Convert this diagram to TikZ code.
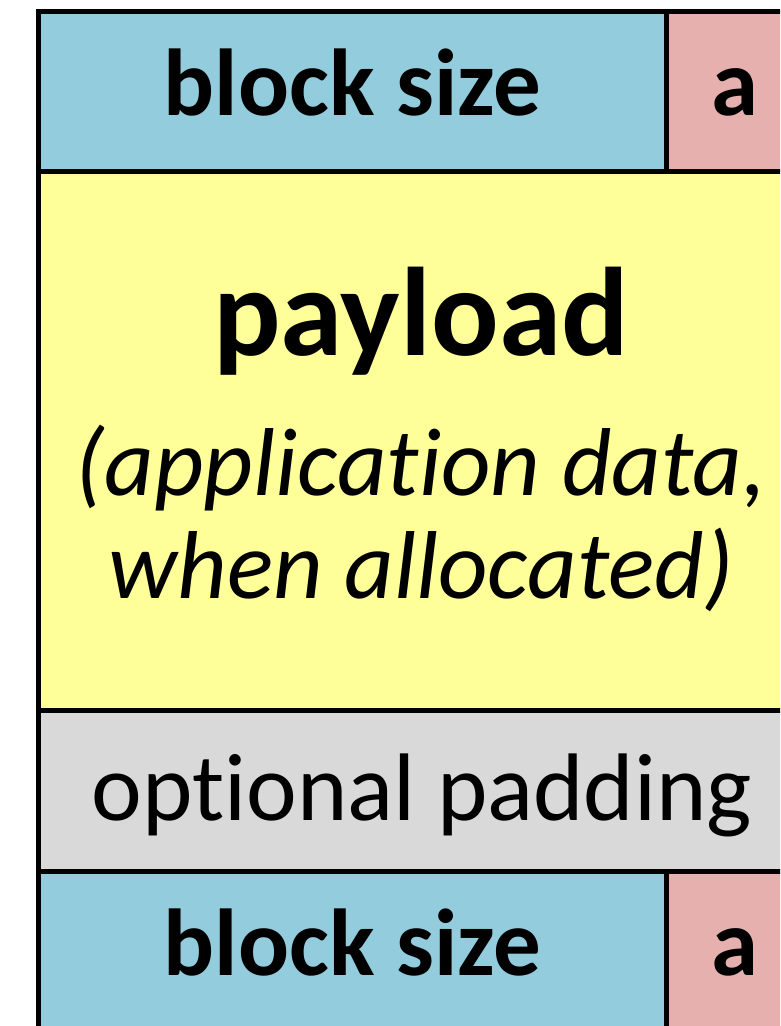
\documentclass[tikz,border=0pt]{standalone}
\usepackage{fontspec}
\setmainfont[Ligatures=NoCommon]{Carlito}
\definecolor{hdrblue}{HTML}{93CDDD}
\definecolor{hdrpink}{HTML}{E6B0AF}
\definecolor{payyellow}{HTML}{FFFF99}
\definecolor{padgray}{HTML}{D9D9D9}
\tikzset{
  cellline/.style={line width=5pt, draw=black},
  bigbold/.style={font=\fontsize{95}{100}\selectfont\bfseries, anchor=base, inner sep=0pt},
  paybold/.style={font=\fontsize{126}{130}\selectfont\bfseries, anchor=base, inner sep=0pt},
  italtext/.style={font=\fontsize{96.5}{100}\selectfont\itshape, anchor=base, inner sep=0pt},
  regtext/.style={font=\fontsize{96}{100}\selectfont, anchor=base, inner sep=0pt},
}
\begin{document}
\begin{tikzpicture}[x=1pt,y=-1pt]
\useasboundingbox (0,0) rectangle (780,1026);
\clip (0,0) rectangle (780,1026);
\fill[white] (0,0) rectangle (780,1026);
% fills
\fill[hdrblue] (38.5,11.5) rectangle (666.5,171.5);
\fill[hdrpink] (666.5,11.5) rectangle (804,171.5);
\fill[payyellow] (38.5,171.5) rectangle (804,710.5);
\fill[padgray] (38.5,710.5) rectangle (804,871.5);
\fill[hdrblue] (38.5,871.5) rectangle (666.5,1032);
\fill[hdrpink] (666.5,871.5) rectangle (804,1032);
% lines
\draw[cellline] (38.5,1040) -- (38.5,11.5) -- (804,11.5) -- (804,1040);
\draw[cellline] (38.5,171.5) -- (804,171.5);
\draw[cellline] (38.5,710.5) -- (804,710.5);
\draw[cellline] (38.5,871.5) -- (804,871.5);
\draw[cellline] (38.5,1031.5) -- (804,1031.5);
\draw[cellline] (666.5,11.5) -- (666.5,171.5);
\draw[cellline] (666.5,871.5) -- (666.5,1031.5);
% texts
\node[bigbold] (bs1) at (352.5,115) {block size};
\node[bigbold] (a1) at (735,115) {a};
\node[paybold] (pay) at (421,355) {payload};
\node[italtext] (it1) at (421,495) {(application data,};
\node[italtext] (it2) at (421,598) {when allocated)};
\node[regtext] (pad) at (422,820) {optional padding};
\node[bigbold] (bs2) at (352.5,975) {block size};
\node[bigbold] (a2) at (735,975) {a};
\end{tikzpicture}
\end{document}
